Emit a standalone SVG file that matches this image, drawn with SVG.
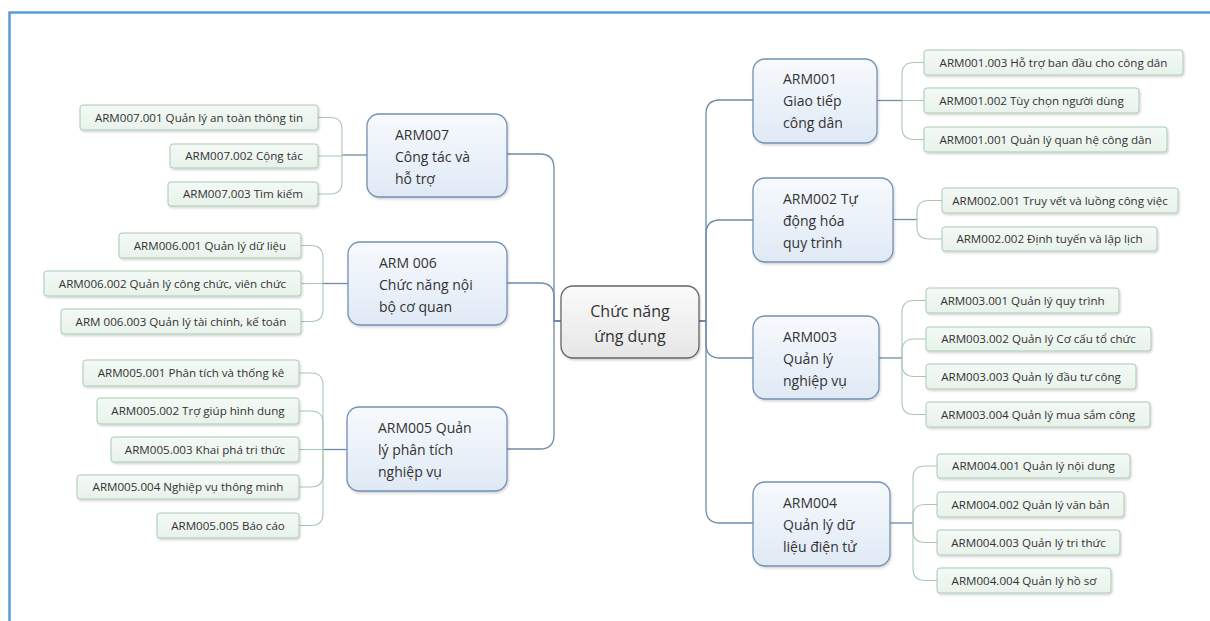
<svg xmlns="http://www.w3.org/2000/svg" width="1210" height="621" viewBox="0 0 1210 621">
  <defs>
    <linearGradient id="gMain" x1="0" y1="0" x2="0" y2="1">
      <stop offset="0" stop-color="#f7fafd"/>
      <stop offset="1" stop-color="#dfe9f5"/>
    </linearGradient>
    <linearGradient id="gCenter" x1="0" y1="0" x2="0" y2="1">
      <stop offset="0" stop-color="#fbfbfb"/>
      <stop offset="1" stop-color="#e6e6e6"/>
    </linearGradient>
    <linearGradient id="gLeaf" x1="0" y1="0" x2="0" y2="1">
      <stop offset="0" stop-color="#f4f9f5"/>
      <stop offset="1" stop-color="#e8f3eb"/>
    </linearGradient>
    <filter id="shadow" x="-10%" y="-10%" width="125%" height="140%">
      <feDropShadow dx="1" dy="1.5" stdDeviation="1.2" flood-color="#000" flood-opacity="0.18"/>
    </filter>
  </defs>
  <style>
    .frame { stroke: #5b9bd5; stroke-width: 2.5; fill: none; }
    .main rect { fill: url(#gMain); stroke: #7391b3; stroke-width: 1.3; filter: url(#shadow); }
    .center rect { fill: url(#gCenter); stroke: #666; stroke-width: 1.3; filter: url(#shadow); }
    .leaf rect { fill: url(#gLeaf); stroke: #a9cbb4; stroke-width: 1; filter: url(#shadow); }
    .main text { font-family: "Open Sans", "Noto Sans", sans-serif; font-size: 14px; fill: #333; }
    .center text { font-family: "Open Sans", "Noto Sans", sans-serif; font-size: 16px; fill: #333; text-anchor: middle; }
    .leaf text { font-family: "Open Sans", "Noto Sans", sans-serif; font-size: 11.6px; fill: #333; text-anchor: middle; }
    .c1 { fill: none; stroke: #6f8aa6; stroke-width: 1.3; }
    .c2 { fill: none; stroke: #a9c7b3; stroke-width: 1.1; }
  </style>

  <rect width="1210" height="621" fill="#fff"/>
  <!-- page frame -->
  <path class="frame" d="M9.5 621 V12.5 H1210"/>

  <g id="connectors">
    <!-- root to main branches, left -->
    <path class="c1" d="M561 321 H554 V168 Q554 154 540 154 H507"/>
    <path class="c1" d="M561 321 H554 V297 Q554 283 540 283 H507"/>
    <path class="c1" d="M561 321 H554 V435 Q554 449 540 449 H507"/>
    <!-- root to main branches, right -->
    <path class="c1" d="M699 321 H706 V114 Q706 100 720 100 H753"/>
    <path class="c1" d="M699 321 H706 V234 Q706 220 720 220 H753"/>
    <path class="c1" d="M699 321 H706 V344 Q706 358 720 358 H753"/>
    <path class="c1" d="M699 321 H706 V509 Q706 523 720 523 H753"/>

    <!-- ARM007 leaves -->
    <path class="c1" d="M367 155 H342"/>
    <path class="c2" d="M342 155 V129.5 Q342 117.5 330 117.5 H318"/>
    <path class="c2" d="M342 155 V156 H318"/>
    <path class="c2" d="M342 155 V182 Q342 194 330 194 H318"/>
    <!-- ARM006 leaves -->
    <path class="c1" d="M348 283.5 H323"/>
    <path class="c2" d="M323 283.5 V257.5 Q323 245.5 311 245.5 H301"/>
    <path class="c2" d="M323 283.5 H301"/>
    <path class="c2" d="M323 283.5 V309.5 Q323 321.5 311 321.5 H301"/>
    <!-- ARM005 leaves -->
    <path class="c1" d="M347 449.5 H323"/>
    <path class="c2" d="M323 449.5 V385 Q323 373 311 373 H299"/>
    <path class="c2" d="M323 449.5 V423 Q323 411 311 411 H299"/>
    <path class="c2" d="M323 449.5 H299"/>
    <path class="c2" d="M323 449.5 V475 Q323 487 311 487 H299"/>
    <path class="c2" d="M323 449.5 V513.5 Q323 525.5 311 525.5 H299"/>

    <!-- ARM001 leaves -->
    <path class="c1" d="M877 100.5 H902"/>
    <path class="c2" d="M902 100.5 V74.5 Q902 62.5 914 62.5 H924"/>
    <path class="c2" d="M902 100.5 H924"/>
    <path class="c2" d="M902 100.5 V127.5 Q902 139.5 914 139.5 H924"/>
    <!-- ARM002 leaves -->
    <path class="c1" d="M893 219.5 H917"/>
    <path class="c2" d="M917 219.5 V212.5 Q917 200.5 929 200.5 H942"/>
    <path class="c2" d="M917 219.5 V227 Q917 239 929 239 H942"/>
    <!-- ARM003 leaves -->
    <path class="c1" d="M879 358 H902"/>
    <path class="c2" d="M902 358 V312.5 Q902 300.5 914 300.5 H926"/>
    <path class="c2" d="M902 358 V351 Q902 339 914 339 H926"/>
    <path class="c2" d="M902 358 V364.5 Q902 376.5 914 376.5 H926"/>
    <path class="c2" d="M902 358 V402.5 Q902 414.5 914 414.5 H926"/>
    <!-- ARM004 leaves -->
    <path class="c1" d="M890 523 H913"/>
    <path class="c2" d="M913 523 V478 Q913 466 925 466 H937"/>
    <path class="c2" d="M913 523 V516.5 Q913 504.5 925 504.5 H937"/>
    <path class="c2" d="M913 523 V530.5 Q913 542.5 925 542.5 H937"/>
    <path class="c2" d="M913 523 V568.5 Q913 580.5 925 580.5 H937"/>
  </g>

  <!-- root -->
  <g id="root" class="center">
    <rect x="561" y="286" width="138" height="72" rx="12"/>
    <text x="630" y="317">Chức năng</text>
    <text x="630" y="342">ứng dụng</text>
  </g>

  <!-- main branches, left -->
  <g id="arm007" class="main">
    <rect x="367" y="114" width="140" height="83" rx="12"/>
    <text x="395" y="140">ARM007</text>
    <text x="395" y="162">Công tác và</text>
    <text x="395" y="184">hỗ trợ</text>
  </g>
  <g id="arm006" class="main">
    <rect x="348" y="242" width="159" height="83" rx="12"/>
    <text x="379" y="268">ARM 006</text>
    <text x="379" y="290">Chức năng nội</text>
    <text x="379" y="312">bộ cơ quan</text>
  </g>
  <g id="arm005" class="main">
    <rect x="347" y="407" width="160" height="84" rx="12"/>
    <text x="378" y="433">ARM005 Quản</text>
    <text x="378" y="455">lý phân tích</text>
    <text x="378" y="477">nghiệp vụ</text>
  </g>

  <!-- main branches, right -->
  <g id="arm001" class="main">
    <rect x="753" y="59" width="124" height="84" rx="12"/>
    <text x="783" y="84">ARM001</text>
    <text x="783" y="106">Giao tiếp</text>
    <text x="783" y="128">công dân</text>
  </g>
  <g id="arm002" class="main">
    <rect x="753" y="178" width="140" height="84" rx="12"/>
    <text x="783" y="204">ARM002 Tự</text>
    <text x="783" y="226">động hóa</text>
    <text x="783" y="248">quy trình</text>
  </g>
  <g id="arm003" class="main">
    <rect x="753" y="316" width="126" height="83" rx="12"/>
    <text x="783" y="342">ARM003</text>
    <text x="783" y="364">Quản lý</text>
    <text x="783" y="386">nghiệp vụ</text>
  </g>
  <g id="arm004" class="main">
    <rect x="753" y="482" width="137" height="84" rx="12"/>
    <text x="783" y="508">ARM004</text>
    <text x="783" y="530">Quản lý dữ</text>
    <text x="783" y="552">liệu điện tử</text>
  </g>

  <!-- ARM007 leaves -->
  <g id="arm007-001" class="leaf"><rect x="80" y="105" width="238" height="25" rx="3"/><text x="199" y="121.5">ARM007.001 Quản lý an toàn thông tin</text></g>
  <g id="arm007-002" class="leaf"><rect x="170" y="144" width="148" height="24" rx="3"/><text x="244" y="160">ARM007.002 Cộng tác</text></g>
  <g id="arm007-003" class="leaf"><rect x="168" y="182" width="150" height="24" rx="3"/><text x="243" y="198">ARM007.003 Tìm kiếm</text></g>

  <!-- ARM006 leaves -->
  <g id="arm006-001" class="leaf"><rect x="119" y="233" width="182" height="25" rx="3"/><text x="210" y="249.5">ARM006.001 Quản lý dữ liệu</text></g>
  <g id="arm006-002" class="leaf"><rect x="44" y="271" width="257" height="25" rx="3"/><text x="172.5" y="287.5">ARM006.002 Quản lý công chức, viên chức</text></g>
  <g id="arm006-003" class="leaf"><rect x="61" y="309" width="240" height="25" rx="3"/><text x="181" y="325.5">ARM 006.003 Quản lý tài chính, kế toán</text></g>

  <!-- ARM005 leaves -->
  <g id="arm005-001" class="leaf"><rect x="83" y="360" width="216" height="26" rx="3"/><text x="191" y="377">ARM005.001 Phân tích và thống kê</text></g>
  <g id="arm005-002" class="leaf"><rect x="97" y="398" width="202" height="26" rx="3"/><text x="198" y="415">ARM005.002 Trợ giúp hình dung</text></g>
  <g id="arm005-003" class="leaf"><rect x="111" y="437" width="188" height="25" rx="3"/><text x="205" y="453.5">ARM005.003 Khai phá tri thức</text></g>
  <g id="arm005-004" class="leaf"><rect x="77" y="475" width="222" height="24" rx="3"/><text x="188" y="491">ARM005.004 Nghiệp vụ thông minh</text></g>
  <g id="arm005-005" class="leaf"><rect x="157" y="513" width="142" height="25" rx="3"/><text x="228" y="529.5">ARM005.005 Báo cáo</text></g>

  <!-- ARM001 leaves -->
  <g id="arm001-003" class="leaf"><rect x="924" y="50" width="259" height="25" rx="3"/><text x="1053.5" y="66.5">ARM001.003 Hỗ trợ ban đầu cho công dân</text></g>
  <g id="arm001-002" class="leaf"><rect x="924" y="88" width="215" height="25" rx="3"/><text x="1031.5" y="104.5">ARM001.002 Tùy chọn người dùng</text></g>
  <g id="arm001-001" class="leaf"><rect x="924" y="127" width="243" height="25" rx="3"/><text x="1045.5" y="143.5">ARM001.001 Quản lý quan hệ công dân</text></g>

  <!-- ARM002 leaves -->
  <g id="arm002-001" class="leaf"><rect x="942" y="188" width="236" height="25" rx="3"/><text x="1060" y="204.5">ARM002.001 Truy vết và luồng công việc</text></g>
  <g id="arm002-002" class="leaf"><rect x="942" y="227" width="215" height="24" rx="3"/><text x="1049.5" y="243">ARM002.002 Định tuyến và lập lịch</text></g>

  <!-- ARM003 leaves -->
  <g id="arm003-001" class="leaf"><rect x="926" y="288" width="193" height="25" rx="3"/><text x="1022.5" y="304.5">ARM003.001 Quản lý quy trình</text></g>
  <g id="arm003-002" class="leaf"><rect x="926" y="327" width="225" height="24" rx="3"/><text x="1038.5" y="343">ARM003.002 Quản lý Cơ cấu tổ chức</text></g>
  <g id="arm003-003" class="leaf"><rect x="926" y="364" width="210" height="25" rx="3"/><text x="1031" y="380.5">ARM003.003 Quản lý đầu tư công</text></g>
  <g id="arm003-004" class="leaf"><rect x="926" y="402" width="224" height="25" rx="3"/><text x="1038" y="418.5">ARM003.004 Quản lý mua sắm công</text></g>

  <!-- ARM004 leaves -->
  <g id="arm004-001" class="leaf"><rect x="937" y="454" width="193" height="24" rx="3"/><text x="1033.5" y="470">ARM004.001 Quản lý nội dung</text></g>
  <g id="arm004-002" class="leaf"><rect x="937" y="492" width="187" height="25" rx="3"/><text x="1030.5" y="508.5">ARM004.002 Quản lý văn bản</text></g>
  <g id="arm004-003" class="leaf"><rect x="937" y="530" width="183" height="25" rx="3"/><text x="1028.5" y="546.5">ARM004.003 Quản lý tri thức</text></g>
  <g id="arm004-004" class="leaf"><rect x="937" y="568" width="174" height="25" rx="3"/><text x="1024" y="584.5">ARM004.004 Quản lý hồ sơ</text></g>
</svg>
